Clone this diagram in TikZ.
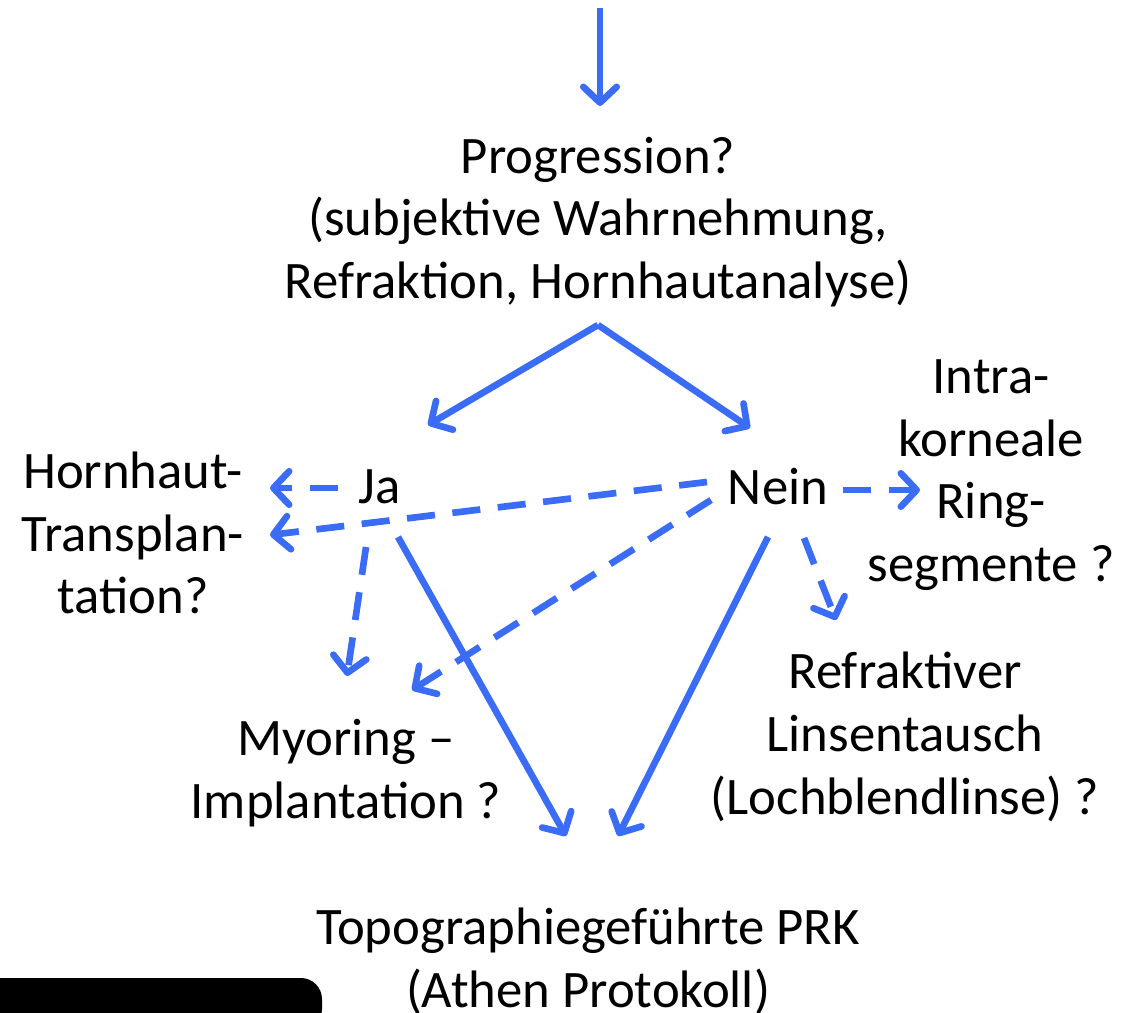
\documentclass[tikz,border=0pt]{standalone}
\usepackage{fontspec}
\setmainfont{Carlito}
\usetikzlibrary{arrows.meta}
\definecolor{flowblue}{RGB}{58,108,245}

\tikzset{
  lbl/.style={align=center, font=\fontsize{30}{35.7}\selectfont, text=black},
  arr/.style={draw=flowblue, line width=3.8pt,
    -{Straight Barb[length=9pt,width=19pt,round]}},
  darr/.style={arr, dash pattern=on 16pt off 10pt},
}

\begin{document}
\begin{tikzpicture}[x=0.02cm,y=-0.02cm]
  \useasboundingbox (0,0) rectangle (1135,1013);
  % texts
  \node[lbl] (prog) at (598,222) {Progression?\\(subjektive Wahrnehmung,\\Refraktion, Hornhautanalyse)};
  \node[lbl] (ja) at (380,487) {Ja};
  \node[lbl] (nein) at (778,487) {Nein};
  \node[lbl] (ht) at (133,533) {Hornhaut-\\Transplan-\\tation?};
  \node[lbl] (irs) at (991,475) {Intra-\\korneale\\Ring-\\segmente ?};
  \node[lbl] (rl) at (905,737) {Refraktiver\\Linsentausch\\(Lochblendlinse) ?};
  \node[lbl] (my) at (346,773) {Myoring --\\Implantation ?};
  \node[lbl] (topo) at (588,961) {Topographiegeführte PRK\\(Athen Protokoll)};

  % connector ends
  \coordinate (in) at (600,8);
  \coordinate (prog-n) at (600,106);
  \coordinate (prog-s) at (598,325);
  \coordinate (ja-n) at (428,425);
  \coordinate (nein-n) at (750,428);
  \coordinate (ja-w) at (338,488);
  \coordinate (ht-e1) at (270,488);
  \coordinate (nein-w) at (707,482);
  \coordinate (ht-e2) at (270,535);
  \coordinate (ja-s1) at (366,547);
  \coordinate (my-n1) at (347,676);
  \coordinate (ja-s2) at (398,537);
  \coordinate (nein-w2) at (711,500);
  \coordinate (my-n2) at (412,690);
  \coordinate (topo-n1) at (566,836);
  \coordinate (nein-s1) at (768,537);
  \coordinate (topo-n2) at (618,836);
  \coordinate (nein-e) at (843,490);
  \coordinate (irs-w) at (920,490);
  \coordinate (nein-s2) at (804,538);
  \coordinate (rl-n) at (836,620);

  % connectors
  \draw[arr] (in) -- (prog-n);
  \draw[arr] (prog-s) -- (ja-n);
  \draw[arr] (prog-s) -- (nein-n);
  \draw[darr] (ja-w) -- (ht-e1);
  \draw[darr] (nein-w) -- (ht-e2);
  \draw[darr] (ja-s1) -- (my-n1);
  \draw[darr] (nein-w2) -- (my-n2);
  \draw[arr] (ja-s2) -- (topo-n1);
  \draw[arr] (nein-s1) -- (topo-n2);
  \draw[darr] (nein-e) -- (irs-w);
  \draw[darr] (nein-s2) -- (rl-n);

  % black bar
  \fill[black, rounded corners=12] (-20,978) -- (322,978) -- (322,1030) -- (-20,1030) -- cycle;
\end{tikzpicture}
\end{document}
